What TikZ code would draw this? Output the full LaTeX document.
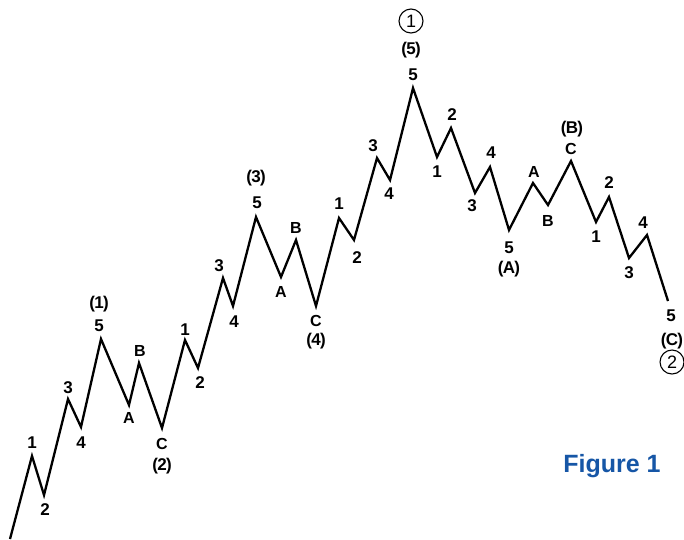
\documentclass[tikz,border=0pt]{standalone}
\usepackage{fontspec}
\setmainfont{Liberation Sans}
\definecolor{figblue}{RGB}{22,86,166}
\newcommand\parlab[1]{(\kern-0.7pt#1\kern-0.7pt)}
\begin{document}
\begin{tikzpicture}[x=1pt,y=-1pt,
  wave/.style={line width=2.3pt, line join=miter, black},
  num/.style={font=\fontsize{17}{17}\selectfont\bfseries, inner sep=0pt},
  lett/.style={font=\fontsize{16}{16}\selectfont\bfseries, inner sep=0pt},
  circ/.style={circle, draw, line width=1.1pt, minimum size=24pt, inner sep=0pt, font=\fontsize{18}{18}\selectfont},
  caption/.style={font=\fontsize{25}{25}\selectfont\bfseries, text=figblue, inner sep=0pt}]
\useasboundingbox (0,0) rectangle (684,539);
% wave vertices
\coordinate (p0) at (10,539);
\coordinate (p1) at (32,456);
\coordinate (p2) at (44,495);
\coordinate (p3) at (68,399);
\coordinate (p4) at (81,427);
\coordinate (p5) at (101,339);
\coordinate (p6) at (129,405);
\coordinate (p7) at (139,363);
\coordinate (p8) at (162,428);
\coordinate (p9) at (185,340);
\coordinate (p10) at (198,368);
\coordinate (p11) at (223,278);
\coordinate (p12) at (233,306);
\coordinate (p13) at (256,217);
\coordinate (p14) at (281,277);
\coordinate (p15) at (296,240);
\coordinate (p16) at (316,306);
\coordinate (p17) at (339,218);
\coordinate (p18) at (354,240);
\coordinate (p19) at (377,158);
\coordinate (p20) at (390,180);
\coordinate (p21) at (413,88);
\coordinate (p22) at (437,157);
\coordinate (p23) at (451,128);
\coordinate (p24) at (475,193);
\coordinate (p25) at (490,167);
\coordinate (p26) at (509,230);
\coordinate (p27) at (533,183);
\coordinate (p28) at (548,205);
\coordinate (p29) at (571,161);
\coordinate (p30) at (596,222);
\coordinate (p31) at (609,197);
\coordinate (p32) at (629,258);
\coordinate (p33) at (647,235);
\coordinate (p34) at (668,301);
\draw[wave] (p0) -- (p1) -- (p2) -- (p3) -- (p4) -- (p5) -- (p6) -- (p7) -- (p8)
  -- (p9) -- (p10) -- (p11) -- (p12) -- (p13) -- (p14) -- (p15) -- (p16) -- (p17)
  -- (p18) -- (p19) -- (p20) -- (p21) -- (p22) -- (p23) -- (p24) -- (p25) -- (p26)
  -- (p27) -- (p28) -- (p29) -- (p30) -- (p31) -- (p32) -- (p33) -- (p34);
% labels, wave (1)
\node[num] (l1) at (32,443) {1};
\node[num] (l2) at (45,510) {2};
\node[num] (l3) at (68,388) {3};
\node[num] (l4) at (81,443) {4};
\node[num] (l5) at (99,326) {5};
\node[num] (w1) at (99,304) {\parlab{1}};
% wave (2)
\node[lett] (la1) at (129,418) {A};
\node[lett] (lb1) at (140,351) {B};
\node[lett] (lc1) at (162,444) {C};
\node[num] (w2) at (162,466) {\parlab{2}};
% wave (3)
\node[num] (m1) at (185,330) {1};
\node[num] (m2) at (200,383) {2};
\node[num] (m3) at (219,266) {3};
\node[num] (m4) at (234,322) {4};
\node[num] (m5) at (257,203) {5};
\node[num] (w3) at (256,178) {\parlab{3}};
% wave (4)
\node[lett] (la2) at (281,292) {A};
\node[lett] (lb2) at (296,228) {B};
\node[lett] (lc2) at (316,321) {C};
\node[num] (w4) at (316,341) {\parlab{4}};
% wave (5)
\node[num] (n1) at (339,204) {1};
\node[num] (n2) at (357,258) {2};
\node[num] (n3) at (373,146) {3};
\node[num] (n4) at (389,194) {4};
\node[num] (n5) at (413,75) {5};
\node[num] (w5) at (411,50) {\parlab{5}};
\node[circ] (c1) at (411,21) {1};
% wave (A)
\node[num] (q1) at (437,172) {1};
\node[num] (q2) at (452,115) {2};
\node[num] (q3) at (472,206) {3};
\node[num] (q4) at (491,153) {4};
\node[num] (q5) at (509,248) {5};
\node[num] (wa) at (509,269) {\parlab{A}};
% wave (B)
\node[lett] (la3) at (534,172) {A};
\node[lett] (lb3) at (548,221) {B};
\node[lett] (lc3) at (571,149) {C};
\node[num] (wb) at (572,129) {\parlab{B}};
% wave (C)
\node[num] (r1) at (596,237) {1};
\node[num] (r2) at (609,183) {2};
\node[num] (r3) at (629,273) {3};
\node[num] (r4) at (643,223) {4};
\node[num] (r5) at (671,316) {5};
\node[num] (wc) at (672,341) {\parlab{C}};
\node[circ] (c2) at (672,362) {2};
% caption
\node[caption] (fig) at (612,466) {Figure 1};
\end{tikzpicture}
\end{document}
